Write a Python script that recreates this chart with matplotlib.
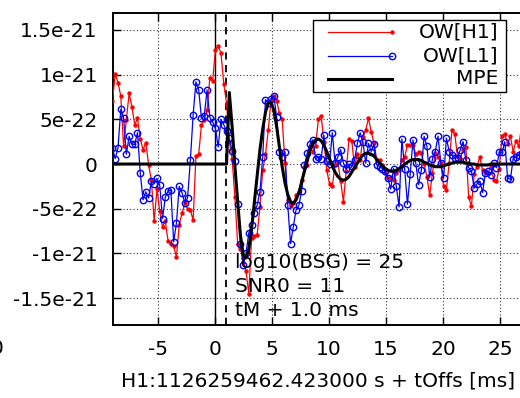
import numpy as np
import matplotlib
matplotlib.use("Agg")
import matplotlib.pyplot as plt
from matplotlib.lines import Line2D
from matplotlib.patches import Rectangle
from matplotlib.ticker import FuncFormatter

plt.rcParams['font.family'] = 'DejaVu Sans'
plt.rcParams['axes.unicode_minus'] = False
FS = 14.5

# whitened strain, units of 1e-22, one sample every 1/4096 s
t0 = -9.0
dt = 1000.0 / 4096.0

ow_h1 = [7.0, 10.1, 9.1, 7.6, 2.0, 4.9, 7.9, 6.4, 4.4, 5.1,
         2.8, 1.6, 2.4, -0.1, -1.8, -6.4, -2.8, -5.3, -7.0, -6.4,
         -8.6, -8.9, -9.2, -10.4, -6.8, -5.5, -4.4, -5.0, -5.1, -6.3,
         0.9, 1.1, 4.4, 4.9, 6.0, 9.6, 9.3, 12.7, 13.2, 12.4,
         9.0, 6.8, 2.5, 0.6, -3.7, -8.9, -9.5, -10.5, -12.0, -14.5,
         -8.3, -8.1, -7.9, -4.8, -0.7, 1.1, 3.8, 7.2, 7.6, 7.1,
         5.7, 5.0, 0.1, -4.0, -4.7, -4.4, -3.5, -3.1, -1.8, -0.3,
         -0.1, 1.9, 1.4, 2.0, 5.0, 5.4, 2.5, -0.7, -2.2, -2.5,
         -0.1, 0.2, -1.9, -4.2, -0.8, 2.8, 2.6, -0.3, 1.1, 0.4,
         3.0, 3.8, 5.1, 3.6, 2.3, 0.4, 0.4, -0.1, -1.0, -1.6,
         -1.5, -1.8, -1.0, -0.7, 0.5, 0.8, 2.1, 2.1, 2.1, 1.1,
         1.4, 1.2, 0.0, -1.4, -3.5, -1.0, 1.2, 0.8, 0.1, -2.5,
         -2.9, 0.1, 3.8, 3.4, 0.8, 0.6, 1.6, 1.9, -3.7, -4.7,
         -1.1, -0.3, 0.8, -0.7, -0.9, -1.1, -0.1, -1.8, -1.9, -0.5,
         3.1, 3.4, 2.2, 3.1, 1.4, 2.6, 2.0, 4.2]

ow_l1 = [1.8, 0.6, 1.8, 6.1, 5.2, 1.1, 3.1, 2.2, 2.2, 3.5,
         -1.0, -4.0, -3.1, -3.8, -1.9, -2.2, -1.6, -2.4, -6.1, -3.7,
         -3.0, -2.9, -8.7, -6.6, -2.5, -3.2, -4.4, -3.8, 0.4, 5.5,
         9.2, 8.3, 5.1, 5.4, 8.3, 5.2, 4.7, 4.0, 1.9, 5.0,
         4.4, 3.7, 2.9, 1.5, 0.3, -4.5, -8.9, -11.3, -10.0, -7.7,
         -6.8, -5.5, -4.6, -3.1, 0.8, 7.2, 6.8, 7.3, 7.6, 5.3,
         1.4, 0.8, 1.4, -4.6, -8.9, -7.0, -5.1, -4.6, -3.0, -0.1,
         1.2, 2.2, 2.7, 0.6, 0.8, 0.6, 3.2, 0.3, 0.0, 3.5,
         0.1, 0.8, 1.6, 0.1, -0.6, 0.0, -0.2, 0.4, 2.3, 3.5,
         2.5, 0.1, 2.3, 1.4, 2.2, -0.1, -0.3, -0.5, -0.8, -1.6,
         -2.8, -0.5, -2.5, -4.8, 2.8, -0.5, -4.5, -1.1, 2.7, 0.1,
         -2.3, -0.7, 3.1, 2.0, -1.5, 0.6, 1.4, 3.1, 0.1, -1.6,
         2.9, 1.4, 1.0, 0.7, 0.7, 1.6, 2.5, 0.4, -0.4, -0.8,
         -2.7, -2.2, -1.9, -3.2, -1.0, -0.8, -1.2, 0.1, -0.4, 1.3,
         1.3, 2.5, -1.6, -1.7, 0.6, 0.8, 1.0, 1.2]

mpe = [0.0] * 42 + [
         8.0, 4.2, -0.2, -4.2, -8.0, -10.2, -10.5, -9.5,
         -7.2, -4.3, -1.4, 1.6, 3.9, 5.8, 6.8, 6.9, 6.0, 4.2,
         1.9, -0.3, -2.1, -3.4, -4.2, -4.4, -4.0, -3.2, -2.0, -0.8,
         0.4, 1.5, 2.3, 2.7, 2.8, 2.6, 2.1, 1.4, 0.6, -0.2,
         -0.9, -1.4, -1.7, -1.8, -1.7, -1.4, -0.9, -0.4, 0.1, 0.6,
         1.0, 1.2, 1.2, 1.1, 0.9, 0.5, 0.1, -0.2, -0.5, -0.7,
         -0.8, -0.8, -0.7, -0.5, -0.3, 0.0, 0.2, 0.4, 0.5, 0.5,
         0.5, 0.4, 0.2, 0.1, -0.1, -0.2, -0.3, -0.3, -0.3, -0.2,
         -0.1, 0.0, 0.1, 0.2, 0.2, 0.2, 0.2, 0.1, 0.1, 0.0,
         0.0, -0.1, -0.1, -0.1, -0.1, -0.1, 0.0, 0.0, 0.0, 0.0,
         0.0, 0.0, 0.0, 0.0, 0.0, 0.0, 0.0, 0.0]

t = t0 + dt * np.arange(len(ow_h1))
h1 = np.array(ow_h1) * 1e-22
l1 = np.array(ow_l1) * 1e-22
mp = np.array(mpe) * 1e-22

t_marker = 1.0
xticks = [-5, 0, 5, 10, 15, 20, 25]
yticks = [-1.5e-21, -1e-21, -5e-22, 0, 5e-22, 1e-21, 1.5e-21]
notes = ["log10(BSG) = 25", "SNR0 = 11", "tM + 1.0 ms"]

W, H = 520, 398
fig = plt.figure(figsize=(W / 100, H / 100), dpi=100)
ax = fig.add_axes([113 / W, 1 - 325 / H, (522.8 - 113) / W, (325 - 13) / H])

ax.plot(t, h1, color='red', lw=0.9, marker='o', ms=3.2, mew=0, zorder=3)
ax.plot(t, l1, color='blue', lw=0.9, marker='o', ms=4.6, mfc='none', mew=1.0, zorder=4)
ax.plot(t, mp, color='black', lw=2.2, zorder=5)
ax.axvline(0, color='black', lw=1.0, zorder=2)
ax.axvline(t_marker, color='black', lw=1.3, linestyle=(0, (4, 3)), zorder=2)

ax.set_xlim(-8.95, 27.0)
ax.set_ylim(-1.80e-21, 1.689e-21)
ax.set_xticks(xticks)
ax.set_yticks(yticks)
ax.yaxis.set_major_formatter(FuncFormatter(lambda v, p: '%g' % v))
ax.tick_params(direction='in', length=6, width=1, top=True, right=False,
               labelsize=FS)
ax.tick_params(axis='y', pad=11)
ax.tick_params(axis='x', pad=11)
ax.grid(True, color='#333333', linestyle=(0, (1, 2)), linewidth=0.8)
for s in ['left', 'bottom', 'top']:
    ax.spines[s].set_linewidth(1.4)
ax.spines['right'].set_visible(False)
ax.set_xlabel("H1:1126259462.423000 s + tOffs [ms]", fontsize=FS, labelpad=9)

for i, s in enumerate(notes):
    fig.text(235 / W, 1 - (262 + 24 * i) / H, s, fontsize=FS, va='center', ha='left')

# key box, gnuplot style
fig.patches.append(Rectangle((313 / W, 1 - 92 / H), 193 / W, 72 / H, transform=fig.transFigure,
                             facecolor='white', edgecolor='black', lw=1.0, zorder=10))
keys = [("OW[H1]", dict(color='red', lw=0.9, marker='o', ms=3.2, mew=0)),
        ("OW[L1]", dict(color='blue', lw=0.9, marker='o', ms=4.6, mfc='none', mew=1.0)),
        ("MPE", dict(color='black', lw=2.2))]
for i, (lab, st) in enumerate(keys):
    yk = 1 - (32 + 23.5 * i) / H
    fig.lines.append(Line2D([328 / W, 392 / W], [yk, yk], transform=fig.transFigure,
                            markevery=[1] if 'marker' in st else None, zorder=11, **st))
    fig.text(498 / W, yk, lab, fontsize=FS, va='center', ha='right', zorder=12)

# partial tick label at the left edge, as in the source picture
fig.text(3 / W, 1 - 349 / H, "0", fontsize=FS, va='center', ha='right')

fig.savefig("out.png", dpi=100)
